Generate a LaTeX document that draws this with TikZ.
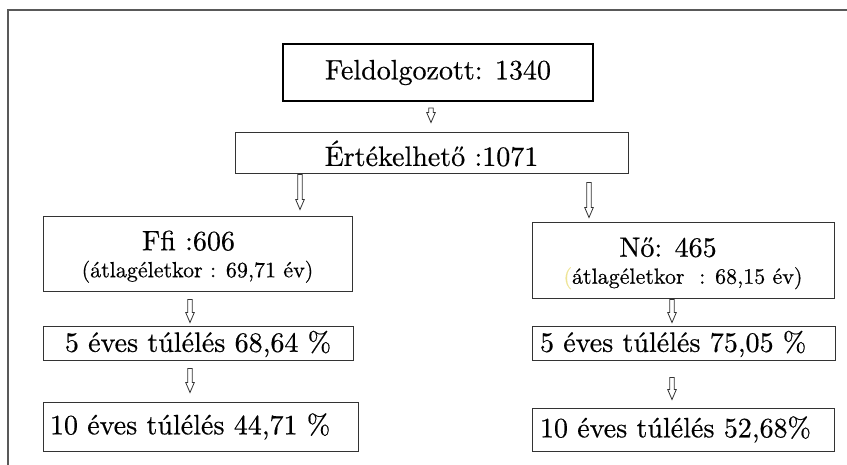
\documentclass[tikz,border=0pt]{standalone}
\usepackage{fontspec}
\setmainfont{lmroman10-regular.otf}[RawFeature={embolden=0.5}]
\usetikzlibrary{calc}
\newcommand\boxfont{\fontsize{28}{33}\selectfont}
\newcommand\notefont{\fontsize{22}{26}\selectfont}
\definecolor{paleparen}{RGB}{238,228,150}
\begin{document}
\begin{tikzpicture}[x=1pt,y=-1pt,
  box/.style={draw=black!80,line width=1pt,inner sep=0pt,font=\boxfont},
  topbox/.style={box,draw=black,line width=2.2pt},
  leftbox/.style={box,align=left,inner xsep=#1},
  harrow/.style={draw=black!80,line width=0.8pt,
    to path={let \p1=(\tikztostart),\p2=(\tikztotarget) in
      (\x1-2.2pt,\y1) -- (\x1-2.2pt,\y2+10pt) -- (\x1-4.3pt,\y2+10pt) -- (\x1,\y2)
      -- (\x1+4.3pt,\y2+10pt) -- (\x1+2.2pt,\y2+10pt) -- (\x1+2.2pt,\y1) -- cycle}},
  frame/.style={draw=black!65,line width=1.5pt}]
\useasboundingbox (0,0) rectangle (847,465);
\draw[frame] (847,10) -- (8,10) -- (8,465);

% boxes
\node[topbox,minimum width=310,minimum height=57] (top) at (438,72.5) {Feldolgozott: 1340};
\node[box,minimum width=393,minimum height=41] (ert) at (431.5,153.5) {Értékelhető :1071};
\node[box,align=center,minimum width=309,minimum height=75] (ffi) at (197.5,254.5)
  {\rule{0pt}{24pt}Ffi :606\hspace*{18pt}\\[-6pt]{\notefont (átlagéletkor : 69,71 év)}};
\node[box,align=center,minimum width=302,minimum height=76] (no) at (683,261)
  {\rule{0pt}{24pt}Nő: 465\hspace*{30pt}\\[-6pt]{\notefont \textcolor{paleparen}{(}átlagéletkor\ \ : 68,15 év)}};
\node[box,minimum width=310,minimum height=34] (lfive) at (198,344) {5 éves túlélés 68,64 \%};
\node[leftbox=8pt,text width=287,minimum height=34] (rfive) at (683.5,344) {5 éves túlélés 75,05 \%};
\node[leftbox=7pt,text width=301,minimum height=49] (lten) at (200.5,426.5) {10 éves túlélés 44,71 \%};
\node[leftbox=8pt,text width=286,minimum height=43] (rten) at (683,429.5) {10 éves túlélés 52,68\%};

% arrows
\draw[harrow] ([xshift=-7pt,yshift=-6pt]top.south) to ([yshift=10pt]ert.north);
\draw[harrow] ([xshift=-131.5pt]ert.south) to ([yshift=7pt]ffi.north);
\draw[harrow] ([xshift=157.5pt,yshift=-8pt]ert.south) to ([yshift=5pt]no.north);
\draw[harrow] ([xshift=-7.5pt,yshift=-7pt]ffi.south) to ([yshift=4pt]lfive.north);
\draw[harrow] ([xshift=-11pt]no.south) to ([yshift=4pt]rfive.north);
\draw[harrow] ([xshift=-8pt,yshift=-7pt]lfive.south) to ([yshift=9pt]lten.north);
\draw[harrow] ([xshift=-11.5pt,yshift=-16pt]rfive.south) to ([yshift=8pt]rten.north);
\end{tikzpicture}
\end{document}
